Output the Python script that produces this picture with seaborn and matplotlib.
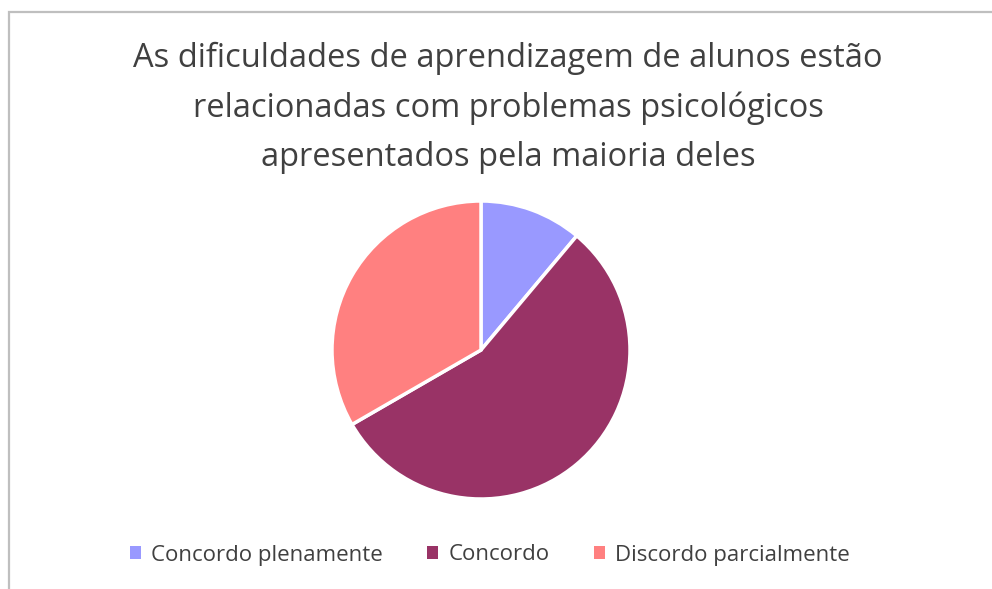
import matplotlib
matplotlib.use("Agg")
import matplotlib.pyplot as plt
import seaborn as sns
from matplotlib.patches import Rectangle

categories = ["Concordo plenamente", "Concordo", "Discordo parcialmente"]
values = [1, 5, 3]
colors = ["#9999FF", "#993366", "#FF8080"]
title = "As dificuldades de aprendizagem de alunos estão\nrelacionadas com problemas psicológicos\napresentados pela maioria deles"

sns.set_theme(style="white")
plt.rcParams["font.family"] = ["Open Sans", "DejaVu Sans"]

fig = plt.figure(figsize=(9.92, 5.89), dpi=100)

# chart frame (cut off at right and bottom like the reference)
fig.patches.append(Rectangle((8.5 / 992, -0.01), 1.1, (589 - 11.5) / 589 + 0.01,
                             transform=fig.transFigure, fill=False,
                             edgecolor="#BFBFBF", linewidth=1.6))

fig.text(508 / 992, 1 - 108 / 589, title, ha="center", va="center",
         fontsize=23.5, color="#404040", linespacing=1.63)

r = 149
ax = fig.add_axes([(481 - r) / 992, (589 - 350 - r) / 589, 2 * r / 992, 2 * r / 589])
wedges, _ = ax.pie(values, colors=colors, startangle=90, counterclock=False,
                   radius=1, wedgeprops=dict(edgecolor="white", linewidth=2.5, clip_on=False))
ax.set_xlim(-1, 1)
ax.set_ylim(-1, 1)
ax.set_aspect("auto")
ax.axis("off")

leg = fig.legend(wedges, categories, loc="center", bbox_to_anchor=(490 / 992, 1 - 555 / 589),
                 ncol=3, frameon=False, fontsize=16, handlelength=0.5, handleheight=0.5,
                 handletextpad=0.45, columnspacing=2.0)
for t in leg.get_texts():
    t.set_color("#404040")
for h in leg.legend_handles:
    h.set_edgecolor("none")

fig.savefig("out.png", dpi=100)
